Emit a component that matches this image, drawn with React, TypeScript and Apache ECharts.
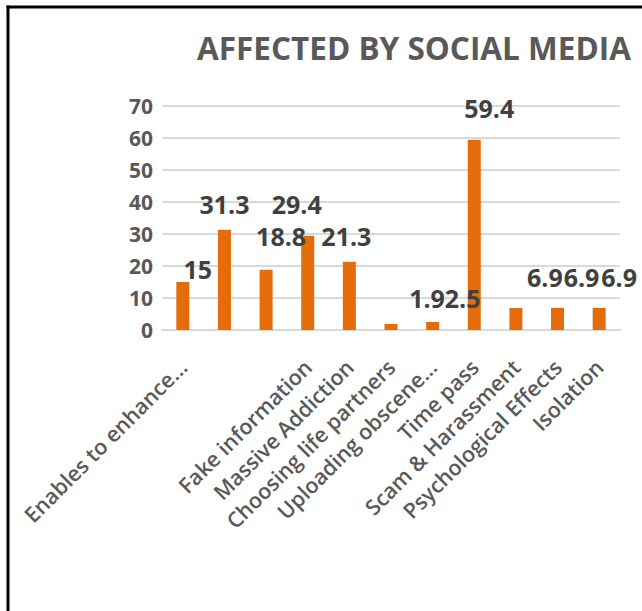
import React, { useEffect, useRef } from "react";
import * as echarts from "echarts";

const titleText = "AFFECTED BY SOCIAL MEDIA";
const categories = [
  "Enables to enhance...",
  "",
  "",
  "Fake information",
  "Massive Addiction",
  "Choosing life partners",
  "Uploading obscene...",
  "Time pass",
  "Scam & Harassment",
  "Psychological Effects",
  "Isolation",
];
const values = [15, 31.3, 18.8, 29.4, 21.3, 1.9, 2.5, 59.4, 6.9, 6.9, 6.9];
const yTicks = { min: 0, max: 70, interval: 10 };
// label nudges (styling only)
const labelDx = [15, 0, 15, -11, -3, 36, 30, 15, 29, 24, 20];
const labelDy = [0, -13, -21, -19, -13, -13, -11, -19, -18, -18, -18];

export default function App() {
  const ref = useRef<HTMLDivElement>(null);
  useEffect(() => {
    if (!ref.current) return;
    const chart = echarts.init(ref.current, null, { renderer: "svg" });
    const font = "'Open Sans', 'DejaVu Sans', sans-serif";
    chart.setOption({
      animation: false,
      backgroundColor: "#ffffff",
      title: {
        text: titleText,
        left: 192,
        top: 26,
        textStyle: {
          fontFamily: font,
          fontSize: 31.5,
          fontWeight: "bold",
          color: "#595959",
        },
      },
      graphic: [
        {
          type: "line",
          shape: { x1: 8, y1: 5.5, x2: 8, y2: 611 },
          style: { stroke: "#000", lineWidth: 3 },
        },
        {
          type: "line",
          shape: { x1: 6.5, y1: 7, x2: 642, y2: 7 },
          style: { stroke: "#000", lineWidth: 3 },
        },
      ],
      grid: { left: 162, right: 22, top: 105.7, bottom: 281 },
      xAxis: {
        type: "category",
        data: categories,
        axisLine: { lineStyle: { color: "#D9D9D9", width: 2 } },
        axisTick: { show: false },
        axisLabel: {
          interval: 0,
          rotate: 45,
          margin: 33,
          fontFamily: font,
          fontSize: 21.5,
          fontWeight: 600,
          color: "#595959",
        },
      },
      yAxis: {
        type: "value",
        min: yTicks.min,
        max: yTicks.max,
        interval: yTicks.interval,
        axisLine: { show: false },
        axisTick: { show: false },
        splitLine: { lineStyle: { color: "#D9D9D9", width: 2 } },
        axisLabel: {
          margin: 9,
          fontFamily: font,
          fontSize: 21,
          fontWeight: "bold",
          color: "#595959",
        },
      },
      series: [
        {
          type: "bar",
          barWidth: 13,
          itemStyle: { color: "#E46C0A" },
          data: values.map((v, i) => ({
            value: v,
            label: {
              show: true,
              position: "top",
              distance: 0,
              offset: [labelDx[i], labelDy[i]],
              fontFamily: font,
              fontSize: 25,
              fontWeight: "bold",
              color: "#404040",
            },
          })),
        },
      ],
    });
    return () => chart.dispose();
  }, []);
  return (
    <div
      ref={ref}
      style={{ position: "fixed", left: 0, top: 0, width: 642, height: 611 }}
    />
  );
}
